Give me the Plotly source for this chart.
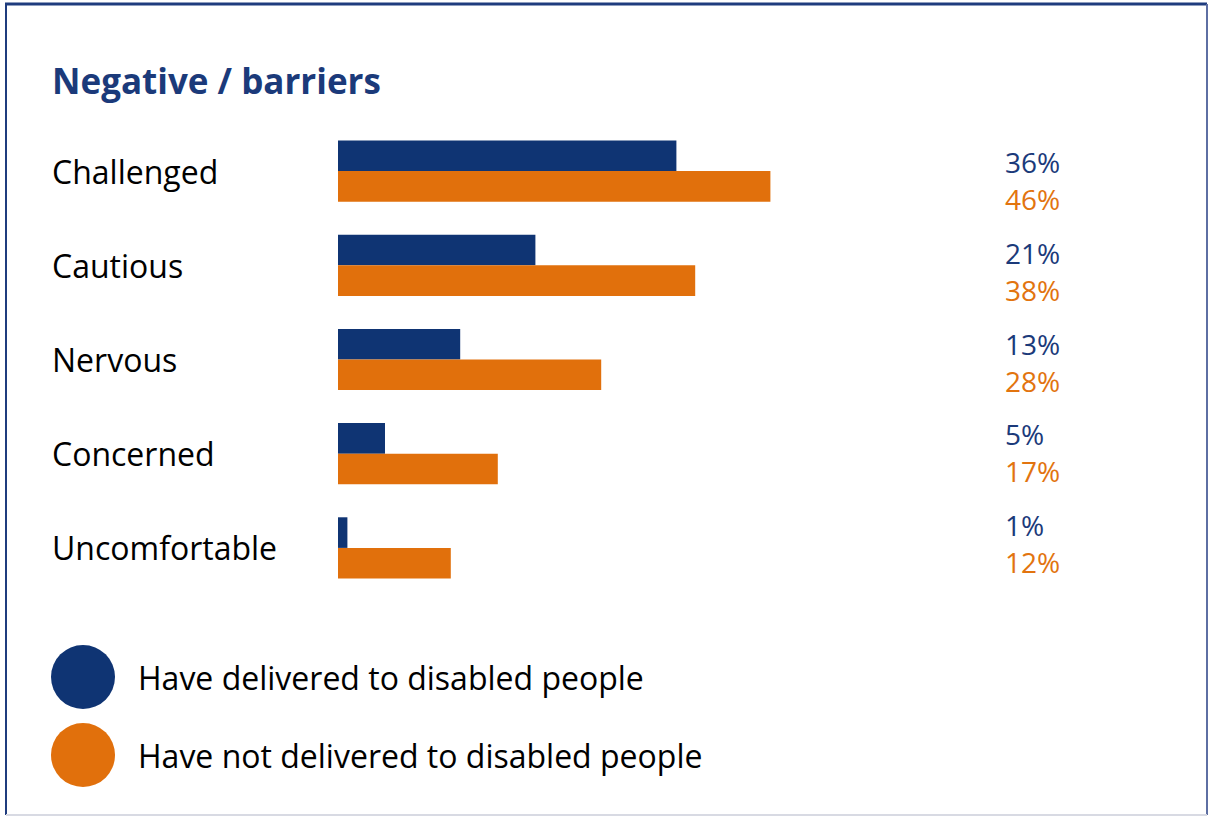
import plotly.graph_objects as go

W, H = 1208, 816

categories = ["Challenged", "Cautious", "Nervous", "Concerned", "Uncomfortable"]
delivered = [36, 21, 13, 5, 1]
not_delivered = [46, 38, 28, 17, 12]
series_names = ["Have delivered to disabled people", "Have not delivered to disabled people"]
title_text = "Negative / barriers"

NAVY = "#0F3473"
ORANGE = "#E1700C"
NAVY_TEXT = "#1B3A7A"
ORANGE_TEXT = "#E2740F"
FONT = "Open Sans"


def px_x(px):
    return px / W


def px_y(px):
    return 1 - px / H


fig = go.Figure()
fig.add_trace(go.Bar(y=categories, x=delivered, orientation="h", name=series_names[0],
                     marker=dict(color=NAVY, line=dict(width=0)), hoverinfo="x+y"))
fig.add_trace(go.Bar(y=categories, x=not_delivered, orientation="h", name=series_names[1],
                     marker=dict(color=ORANGE, line=dict(width=0)), hoverinfo="x+y"))

annotations = [
    dict(text=f"<b>{title_text}</b>", x=px_x(50), y=px_y(81), xref="paper", yref="paper",
         xanchor="left", yanchor="middle", showarrow=False,
         font=dict(family=FONT, size=35, color=NAVY_TEXT)),
]

# category labels on the left, aligned with each bar group
for cat in categories:
    annotations.append(dict(text=cat, x=px_x(50), y=cat, xref="paper", yref="y",
                            xanchor="left", yanchor="middle", showarrow=False,
                            font=dict(family=FONT, size=32, color="#000000")))

# value column on the right
for i, (a, b) in enumerate(zip(delivered, not_delivered)):
    top = 162 + i * 90.8
    annotations.append(dict(text=f"{a}%", x=px_x(1003), y=px_y(top), xref="paper", yref="paper",
                            xanchor="left", yanchor="middle", showarrow=False,
                            font=dict(family=FONT, size=28, color=NAVY_TEXT)))
    annotations.append(dict(text=f"{b}%", x=px_x(1003), y=px_y(top + 37), xref="paper", yref="paper",
                            xanchor="left", yanchor="middle", showarrow=False,
                            font=dict(family=FONT, size=28, color=ORANGE_TEXT)))

shapes = []
# legend swatches
for name, col, cy in zip(series_names, [NAVY, ORANGE], [677, 755]):
    shapes.append(dict(type="circle", xref="paper", yref="paper",
                       x0=px_x(51), x1=px_x(115), y0=px_y(cy + 32), y1=px_y(cy - 32),
                       fillcolor=col, line=dict(width=0)))
    annotations.append(dict(text=name, x=px_x(136), y=px_y(cy), xref="paper", yref="paper",
                            xanchor="left", yanchor="middle", showarrow=False,
                            font=dict(family=FONT, size=32, color="#000000")))

# frame
frame_col = "#1F3C7E"
shapes += [
    dict(type="line", xref="paper", yref="paper", x0=px_x(5), x1=px_x(1207), y0=px_y(4), y1=px_y(4),
         line=dict(color=frame_col, width=3)),
    dict(type="line", xref="paper", yref="paper", x0=px_x(6), x1=px_x(6), y0=px_y(4), y1=px_y(815),
         line=dict(color=frame_col, width=2)),
    dict(type="line", xref="paper", yref="paper", x0=px_x(1207), x1=px_x(1207), y0=px_y(4), y1=px_y(815),
         line=dict(color="#5E6FA3", width=2)),
    dict(type="line", xref="paper", yref="paper", x0=px_x(6), x1=px_x(1207), y0=px_y(815), y1=px_y(815),
         line=dict(color="#D8DAE3", width=2)),
]

fig.update_layout(
    width=W, height=H,
    margin=dict(l=0, r=0, t=0, b=0),
    paper_bgcolor="white", plot_bgcolor="white",
    barmode="group", bargap=0.35, bargroupgap=0,
    showlegend=False,
    xaxis=dict(domain=[px_x(338), px_x(902)], range=[0, 60], visible=False, fixedrange=True),
    yaxis=dict(domain=[px_y(595), px_y(124)], range=[4.5, -0.5], visible=False,
               type="category", categoryorder="array", categoryarray=categories, fixedrange=True),
    annotations=annotations,
    shapes=shapes,
)

fig.write_html("out.html")
